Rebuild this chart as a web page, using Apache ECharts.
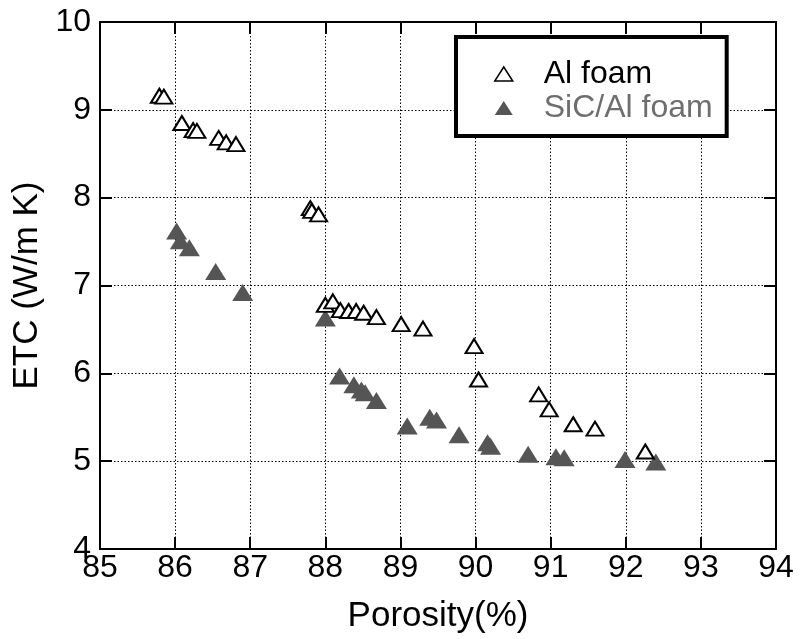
<!DOCTYPE html>
<html><head><meta charset="utf-8">
<script src="https://cdn.jsdelivr.net/npm/echarts@6/dist/echarts.min.js"></script>
<style>html,body{margin:0;padding:0;background:#fff}#c{width:807px;height:639px}</style>
</head><body><div id="c"></div>
<script>
const xTicks = [85, 86, 87, 88, 89, 90, 91, 92, 93, 94];
const yTicks = [4, 5, 6, 7, 8, 9, 10];
const alPorosity = [85.79, 85.85, 86.09, 86.24, 86.29, 86.58, 86.68, 86.81, 87.80, 87.82, 87.91,
  88.00, 88.10, 88.20, 88.31, 88.41, 88.51, 88.68, 89.01, 89.30, 89.98, 90.04, 90.84, 90.98, 91.30, 91.59, 92.26];
const alETC = [9.16, 9.15, 8.85, 8.77, 8.76, 8.68, 8.63, 8.61, 7.88, 7.85, 7.81,
  6.78, 6.82, 6.72, 6.71, 6.71, 6.69, 6.64, 6.56, 6.51, 6.31, 5.93, 5.76, 5.59, 5.42, 5.37, 5.11];
const sicPorosity = [86.02, 86.07, 86.19, 86.54, 86.90, 88.00, 88.19, 88.38, 88.48, 88.53, 88.68,
  89.09, 89.39, 89.48, 89.78, 90.16, 90.20, 90.70, 91.07, 91.18, 91.99, 92.40];
const sicETC = [7.62, 7.51, 7.43, 7.16, 6.92, 6.63, 5.97, 5.87, 5.81, 5.78, 5.69,
  5.40, 5.50, 5.47, 5.30, 5.21, 5.17, 5.08, 5.05, 5.04, 5.02, 4.99];
const seriesNames = ['Al foam', 'SiC/Al foam'];

const FONT = 'Liberation Sans, Arial, sans-serif';
const chart = echarts.init(document.getElementById('c'));
const zip = (a, b) => a.map((v, i) => [v, b[i]]);
const tickStyle = {show: true, inside: true, length: 12, lineStyle: {color: '#000', width: 2}};
const axLine = {show: true, lineStyle: {color: '#000', width: 2}};
chart.setOption({
  animation: false,
  grid: {left: 100, right: 31, top: 22, bottom: 90},
  legend: {
    orient: 'vertical', left: 456, top: 37,
    padding: [21, 14, 12, 38],
    itemGap: 2, itemWidth: 18, itemHeight: 14,
    borderColor: '#000', borderWidth: 4, backgroundColor: '#fff',
    textStyle: {fontFamily: FONT, fontSize: 32, padding: [0, 0, 0, 26]},
    data: [
      {name: seriesNames[0], icon: 'triangle', itemStyle: {color: '#fff', borderColor: '#000', borderWidth: 1.5}, textStyle: {color: '#000'}},
      {name: seriesNames[1], icon: 'triangle', itemStyle: {color: '#555', borderWidth: 0}, textStyle: {color: '#6e6e6e'}}
    ]
  },
  xAxis: [{
    type: 'value', min: xTicks[0], max: xTicks[xTicks.length - 1], interval: 1,
    name: 'Porosity(%)', nameLocation: 'middle', nameGap: 50,
    nameTextStyle: {fontFamily: FONT, fontSize: 35, color: '#000'},
    axisLine: axLine, axisTick: tickStyle,
    axisLabel: {fontFamily: FONT, fontSize: 32, color: '#000', margin: 3},
    splitLine: {show: true, lineStyle: {color: '#000', width: 1, type: [1.5, 2]}}
  }, {
    type: 'value', position: 'top', min: xTicks[0], max: xTicks[xTicks.length - 1], interval: 1,
    axisLine: axLine, axisTick: tickStyle, axisLabel: {show: false}, splitLine: {show: false}
  }],
  yAxis: [{
    type: 'value', min: yTicks[0], max: yTicks[yTicks.length - 1], interval: 1,
    name: 'ETC (W/m K)', nameLocation: 'middle', nameGap: 49,
    nameTextStyle: {fontFamily: FONT, fontSize: 35, color: '#000'},
    axisLine: axLine, axisTick: tickStyle,
    axisLabel: {fontFamily: FONT, fontSize: 32, color: '#000', margin: 9},
    splitLine: {show: true, lineStyle: {color: '#000', width: 1, type: [1.5, 2]}}
  }, {
    type: 'value', position: 'right', min: yTicks[0], max: yTicks[yTicks.length - 1], interval: 1,
    axisLine: axLine, axisTick: tickStyle, axisLabel: {show: false}, splitLine: {show: false}
  }],
  series: [{
    name: seriesNames[0], type: 'scatter', symbol: 'triangle', symbolSize: [17, 14],
    itemStyle: {color: '#fff', borderColor: '#000', borderWidth: 2, opacity: 1},
    data: zip(alPorosity, alETC), z: 3
  }, {
    name: seriesNames[1], type: 'scatter', symbol: 'triangle', symbolSize: [21, 17],
    itemStyle: {color: '#555', opacity: 1},
    data: zip(sicPorosity, sicETC), z: 2
  }]
});
</script></body></html>
